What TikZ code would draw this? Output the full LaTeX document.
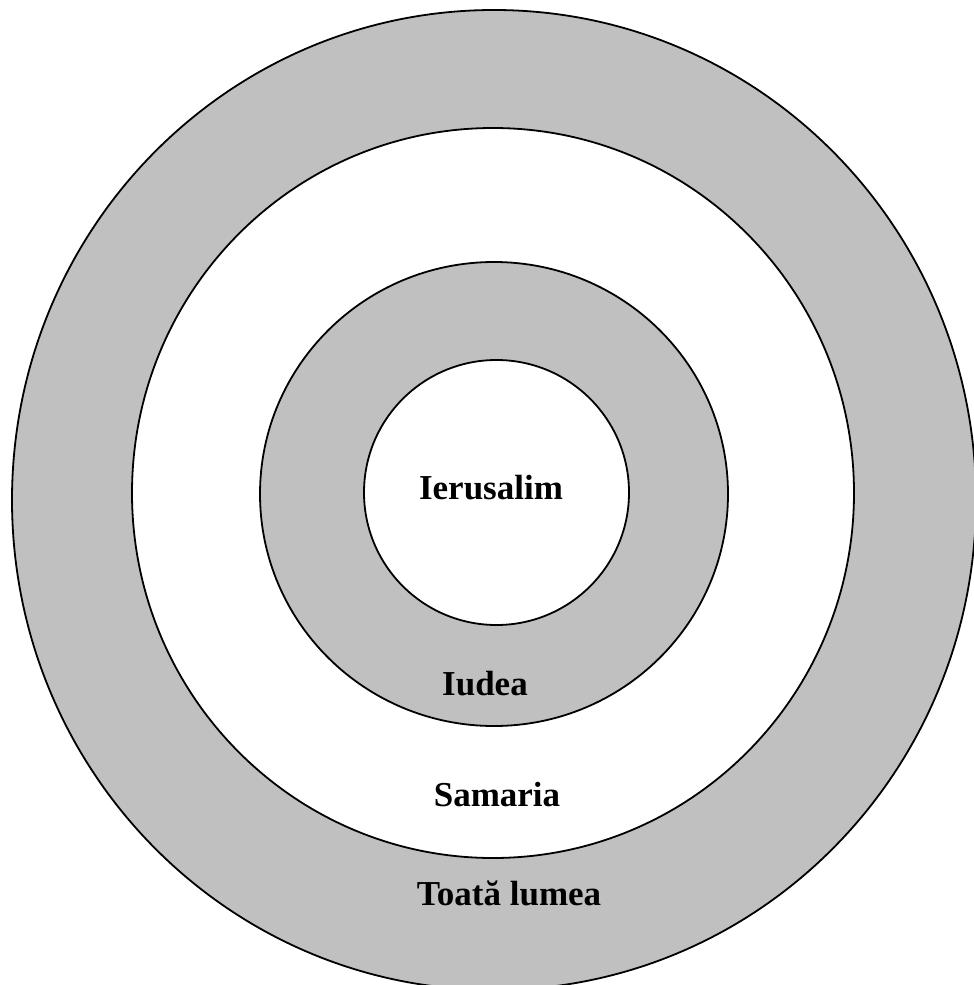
\documentclass[tikz,border=0pt]{standalone}
\usepackage{fontspec}
\setmainfont{Liberation Serif}
\usepackage{tikz}
\usetikzlibrary{positioning}
\definecolor{ringgray}{RGB}{192,192,192}
\tikzset{
  ringband/.style={draw=black,line width=1.8pt,fill=ringgray},
  ringgap/.style={draw=black,line width=1.8pt,fill=white},
  ringlabel/.style={font=\fontsize{35}{40}\selectfont\bfseries,anchor=base,inner sep=0pt}
}
\begin{document}
\begin{tikzpicture}[x=1pt,y=-1pt]
  \useasboundingbox (0,0) rectangle (974,985);
  \clip (0,0) rectangle (974,985);
  \draw[ringband] (494,500) ellipse (482 and 490);
  \draw[ringgap] (493,493) ellipse (361 and 365);
  \draw[ringband] (494,494) ellipse (234 and 232);
  \draw[ringgap] (496.5,492.5) ellipse (132.5 and 132.5);
  \node[ringlabel] (ierusalim) at (491,499) {Ierusalim};
  \node[ringlabel] (iudea) at (485,695) {Iudea};
  \node[ringlabel] (samaria) at (497,806) {Samaria};
  \node[ringlabel] (lumea) at (509,905) {Toată lumea};
\end{tikzpicture}
\end{document}
